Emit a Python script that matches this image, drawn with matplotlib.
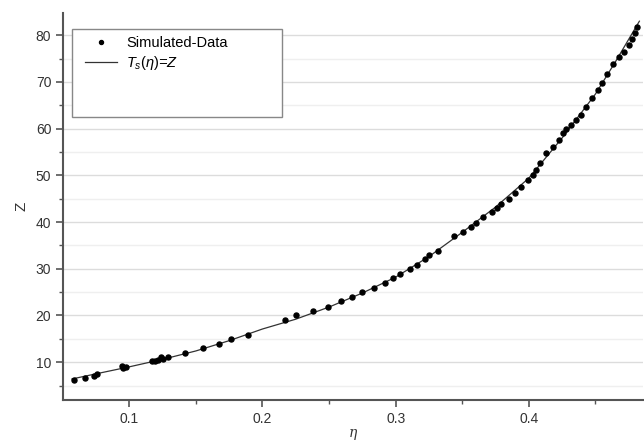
import matplotlib.pyplot as plt
from matplotlib.patches import Rectangle
from matplotlib.ticker import MultipleLocator

plt.rcParams['font.family'] = ['Liberation Sans', 'DejaVu Sans']
plt.rcParams['mathtext.fontset'] = 'custom'
plt.rcParams['mathtext.rm'] = 'Liberation Sans'
plt.rcParams['mathtext.it'] = 'Liberation Sans:italic'

# simulated points (eta, Z)
eta_sim = [0.0586, 0.0668, 0.0738, 0.0760, 0.0945, 0.0950, 0.0978, 0.1168, 0.1190,
           0.1213, 0.1237, 0.1250, 0.1290, 0.1420, 0.1550, 0.1672, 0.1767, 0.1890,
           0.2170, 0.2254, 0.2383, 0.2490, 0.2590, 0.2670, 0.2748, 0.2835, 0.2923,
           0.2978, 0.3035, 0.3110, 0.3157, 0.3222, 0.3250, 0.3315, 0.3435, 0.3502,
           0.3567, 0.3602, 0.3657, 0.3727, 0.3760, 0.3789, 0.3852, 0.3897, 0.3940,
           0.3996, 0.4030, 0.4052, 0.4082, 0.4127, 0.4181, 0.4226, 0.4258, 0.4276,
           0.4320, 0.4356, 0.4388, 0.4426, 0.4473, 0.4516, 0.4546, 0.4588, 0.4630,
           0.4676, 0.4713, 0.4750, 0.4775, 0.4800, 0.4813]
z_sim = [6.1, 6.6, 7.1, 7.4, 9.15, 8.7, 8.9, 10.2, 10.2,
         10.5, 11.1, 10.7, 11.1, 12.0, 13.0, 13.9, 15.0, 15.9,
         19.0, 20.0, 21.0, 21.9, 23.0, 23.9, 25.0, 25.9, 27.0,
         28.0, 28.9, 29.9, 30.9, 32.0, 32.9, 33.9, 37.0, 37.9,
         38.9, 39.9, 41.0, 42.1, 43.0, 43.9, 44.9, 46.2, 47.6,
         48.9, 50.0, 51.2, 52.6, 54.8, 56.1, 57.6, 59.0, 59.9,
         60.8, 61.9, 63.0, 64.6, 66.5, 68.3, 69.7, 71.7, 73.9,
         75.3, 76.5, 78.0, 79.2, 80.5, 81.8]

# fitted curve T_s(eta) = Z
eta_fit = [0.057, 0.075, 0.100, 0.125, 0.150, 0.175, 0.200, 0.225, 0.250, 0.275,
           0.300, 0.325, 0.350, 0.375, 0.400, 0.425, 0.450, 0.465, 0.483]
z_fit = [6.4, 7.5, 9.0, 10.6, 12.4, 14.6, 17.1, 19.2, 21.8, 24.8,
         28.2, 32.6, 37.8, 43.2, 49.4, 58.0, 67.4, 74.3, 83.0]

fig = plt.figure(figsize=(6.44, 4.41), dpi=100)
ax = fig.add_axes([0.098, 0.093, 0.900, 0.878])

ax.plot(eta_sim, z_sim, 'o', color='black', markersize=3.6, label='Simulated-Data', zorder=3)
ax.plot(eta_fit, z_fit, '-', color='#333333', linewidth=0.9, label=r'$T_s(\eta)$=Z', zorder=2)

ax.set_xlim(0.0503, 0.4855)
ax.set_ylim(1.9, 84.8)
ax.xaxis.set_major_locator(MultipleLocator(0.1))
ax.xaxis.set_minor_locator(MultipleLocator(0.05))
ax.yaxis.set_major_locator(MultipleLocator(10))
ax.yaxis.set_minor_locator(MultipleLocator(5))

ax.grid(True, axis='y', which='major', color='#dcdcdc', linewidth=1.0)
ax.grid(True, axis='y', which='minor', color='#efefef', linewidth=1.0)
ax.set_axisbelow(True)

for s in ['top', 'right']:
    ax.spines[s].set_visible(False)
for s in ['left', 'bottom']:
    ax.spines[s].set_color('#555555')
    ax.spines[s].set_linewidth(1.5)

ax.tick_params(which='major', length=5, width=1.2, color='#555555', labelsize=10, labelcolor='#333333')
ax.tick_params(which='minor', length=3, width=1.0, color='#555555')

ax.set_ylabel('Z', fontsize=11, color='#333333', labelpad=5)
ax.set_xlabel('η', family='DejaVu Serif', style='italic', fontsize=10, color='#333333', labelpad=0)

ax.add_patch(Rectangle((0.0155, 0.731), 0.3615, 0.228, transform=ax.transAxes,
                       facecolor='white', edgecolor='#888888', linewidth=1.0, zorder=4))
leg = ax.legend(loc='upper left', bbox_to_anchor=(0.028, 0.955), frameon=False,
                fontsize=10.5, handlelength=2.2, handletextpad=0.6, labelspacing=0.3,
                borderaxespad=0, markerscale=0.8)
leg.set_zorder(5)
leg.get_texts()[1].set_style('italic')

fig.savefig('out.png', dpi=100)
